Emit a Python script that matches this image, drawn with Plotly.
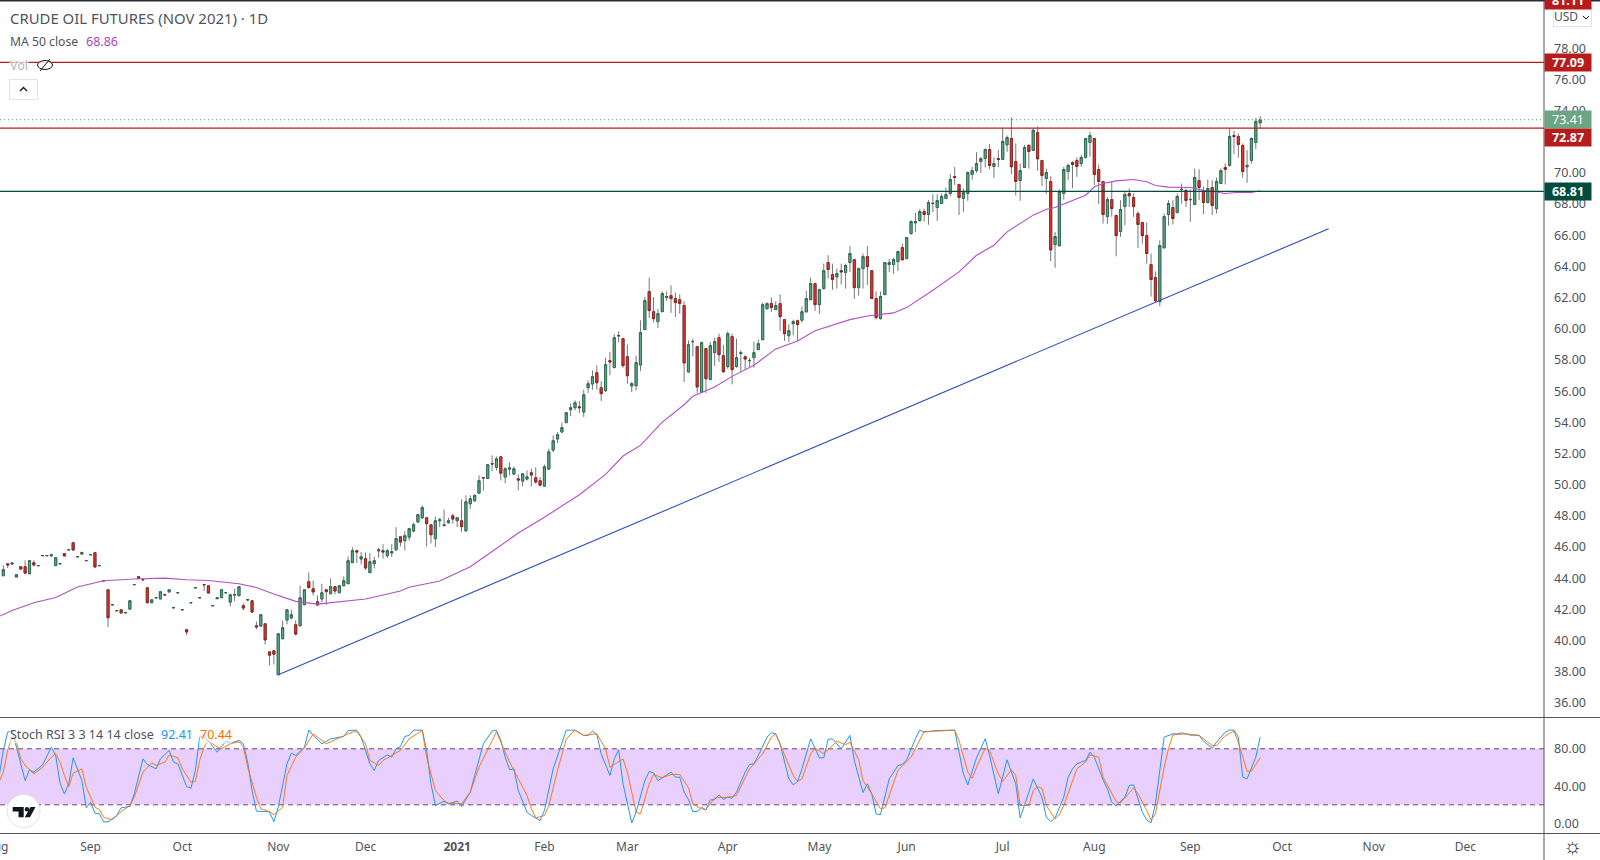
import plotly.graph_objects as go

# daily candles, oldest first, one entry per bar
opens = [
    44.16,44.93,44.91,44.08,44.74,44.74,44.29,45.00,44.80,45.44, 45.44,45.43,44.81,44.92,45.58,45.82,46.28,45.37,45.55,45.12,
    45.50,45.64,44.80,43.83,43.26,42.29,41.91,41.98,41.78,42.02, 43.58,44.10,43.92,43.39,42.43,42.74,42.67,42.95,43.12,42.10,
    43.06,41.97,40.70,42.42,43.38,42.74,43.60,43.52,42.23,42.69, 42.75,43.06,42.47,42.93,42.88,42.24,42.61,42.56,40.95,40.93,
    41.08,39.28,39.35,37.81,40.12,41.32,41.45,41.02,40.95,42.30, 43.78,43.33,42.49,42.67,43.26,43.01,43.46,43.07,43.52,43.65,
    45.00,45.77,45.23,45.26,44.36,44.93,45.75,45.77,45.45,45.62, 45.83,46.66,46.41,46.64,47.03,47.61,47.88,47.88,47.43,46.54,
    47.69,47.37,47.56,48.01,47.69,47.69,47.05,48.78,48.97,49.46, 50.46,50.40,51.35,51.11,51.79,50.49,51.00,50.68,50.38,50.23,
    50.36,50.77,50.45,50.26,49.91,51.00,52.22,52.93,53.38,53.98, 54.81,54.94,55.00,54.66,56.22,56.46,57.19,56.22,56.03,57.96,
    57.51,59.57,59.37,58.21,56.33,56.35,57.68,59.95,62.39,61.10, 60.46,61.10,62.00,62.13,61.94,61.87,61.49,57.23,59.17,58.86,
    55.94,58.73,56.74,58.47,59.43,58.28,57.57,59.50,57.57,58.41, 58.21,57.95,58.15,58.66,59.30,61.29,61.62,61.23,61.62,60.59,
    59.56,60.33,60.52,60.55,61.08,61.87,62.90,61.55,62.58,64.25, 63.48,63.33,63.73,63.61,64.25,64.44,62.64,63.86,64.63,63.73,
    61.94,60.65,62.19,64.12,64.12,64.31,65.21,64.50,66.11,66.79, 66.94,67.52,67.33,68.03,67.78,68.04,68.36,68.68,69.77,69.26,
    68.36,68.68,69.90,70.15,70.73,70.92,71.50,70.41,70.92,70.86, 71.80,72.21,70.73,69.51,70.35,71.76,71.44,72.59,70.80,69.64,
    69.45,65.40,65.32,68.68,70.09,70.67,70.80,70.60,70.99,71.95, 72.21,70.22,69.45,67.20,68.29,67.27,66.24,67.84,68.68,68.42,
    67.39,66.82,65.98,64.12,63.29,61.74,65.19,67.33,67.78,67.46, 68.95,68.87,68.28,67.97,69.51,68.87,68.10,69.06,67.71,69.32,
    70.35,70.48,72.40,72.34,71.76,70.39,70.80,71.95,73.21,
]
highs = [
    44.83,44.93,45.04,44.23,44.74,45.15,45.13,45.15,44.82,45.46, 45.46,45.58,45.32,44.94,45.58,45.84,46.28,45.39,45.66,45.14,
    45.52,45.64,44.82,43.85,43.26,42.31,41.93,41.98,41.85,42.56, 43.60,44.10,43.92,43.39,42.62,42.76,43.14,42.95,43.26,42.12,
    43.08,41.99,40.70,42.44,43.40,42.76,43.60,43.52,42.25,42.75, 43.26,43.08,43.01,43.33,43.46,42.39,42.63,42.56,41.23,41.66,
    41.08,39.28,39.35,40.44,41.28,41.98,42.00,41.30,43.54,43.26, 44.38,43.86,42.90,43.65,43.33,43.99,43.46,43.52,44.12,45.40,
    45.98,45.83,45.68,45.66,45.62,45.38,45.96,46.18,45.90,46.18, 47.27,46.67,47.01,47.18,47.56,48.14,48.68,47.88,47.43,47.95,
    47.88,48.42,47.88,48.14,47.93,49.06,49.32,49.32,49.38,50.60, 50.46,51.28,51.88,51.81,51.79,51.13,51.43,51.17,50.66,50.70,
    50.92,51.02,51.11,50.49,51.30,52.31,53.16,53.38,53.98,54.66, 55.22,55.41,55.37,56.09,56.69,57.34,57.66,56.65,58.15,58.51,
    59.65,59.84,59.37,59.00,56.59,58.28,60.55,62.04,63.29,62.04, 61.29,62.41,62.41,62.79,62.32,62.21,61.77,59.26,59.37,58.86,
    59.18,58.73,59.15,59.43,59.69,58.98,59.84,59.69,59.37,58.62, 58.30,58.15,59.18,59.30,61.68,61.70,62.02,61.77,62.21,60.59,
    60.29,60.59,60.59,61.44,62.43,63.29,62.90,62.58,64.18,64.72, 64.18,63.86,64.18,64.18,65.30,64.44,63.93,64.83,65.30,63.73,
    62.41,62.39,64.25,64.48,64.57,65.04,65.47,65.85,66.97,67.44, 67.69,67.71,68.25,68.64,68.64,68.68,69.06,69.92,70.37,69.26,
    69.00,70.09,70.39,71.33,71.03,71.57,71.85,70.99,71.46,72.87, 72.40,73.56,71.89,70.60,71.78,71.85,72.85,72.98,70.80,70.28,
    69.79,66.22,68.94,70.39,70.60,70.75,70.99,71.14,72.21,72.64, 72.21,70.54,69.45,68.46,69.45,67.33,68.25,68.79,69.00,68.68,
    67.54,66.82,66.82,64.83,63.69,65.68,67.39,68.25,68.25,68.68, 69.32,69.00,68.94,70.28,70.24,69.11,69.58,69.53,69.71,70.28,
    70.60,72.85,72.70,72.53,71.89,71.46,72.27,73.51,73.64,
]
lows = [
    44.16,44.66,44.85,44.08,44.59,44.33,44.29,44.76,44.80,45.44, 45.44,45.43,44.81,44.92,45.43,45.82,45.81,45.37,45.55,45.12,
    45.50,44.72,44.80,43.83,40.87,42.29,41.91,41.77,41.78,42.02, 43.58,43.99,43.90,42.43,42.43,42.74,42.67,42.93,43.12,42.10,
    43.06,41.97,40.35,42.42,43.38,42.74,43.18,43.05,42.23,42.69, 42.75,43.06,42.19,42.52,42.88,41.94,42.52,41.77,40.72,40.87,
    39.76,38.41,38.47,37.81,40.12,41.04,41.36,40.33,40.95,42.30, 43.33,42.90,42.22,42.47,42.30,42.97,42.97,43.07,43.52,43.65,
    45.00,44.98,44.89,44.53,44.36,44.63,45.32,45.26,45.30,45.36, 45.77,46.04,45.79,46.43,46.94,47.56,47.80,46.04,46.24,46.00,
    47.28,47.37,47.50,47.50,47.28,46.96,46.98,48.46,48.89,49.42, 49.63,50.36,50.87,50.92,50.27,50.10,50.60,50.64,49.63,49.89,
    50.27,49.89,50.06,49.89,49.91,51.00,52.09,52.67,53.31,53.95, 54.40,54.77,54.60,54.34,55.88,56.09,56.09,55.37,55.94,57.02,
    57.51,59.13,57.51,56.48,55.94,56.05,57.29,59.95,60.70,60.40, 60.05,61.10,61.79,61.02,60.76,60.97,56.59,57.17,58.23,55.88,
    55.88,55.88,56.74,57.61,57.87,57.17,57.44,56.44,57.51,57.23, 57.38,57.57,57.51,58.66,59.30,61.23,61.08,61.23,59.86,59.22,
    59.13,59.58,59.22,60.40,61.08,61.83,61.15,60.97,62.51,63.22, 62.51,62.58,62.84,62.58,63.63,61.92,62.13,62.58,62.81,61.94,
    60.59,60.59,62.19,63.63,63.54,63.71,64.42,64.50,66.02,66.22, 66.88,66.88,66.67,67.48,66.92,68.04,68.36,68.51,69.23,67.29,
    67.50,68.21,69.56,70.00,70.00,70.35,70.24,69.68,70.37,70.86, 71.35,69.92,68.55,68.21,70.35,70.28,71.44,70.13,69.15,68.64,
    64.33,63.91,65.32,68.29,69.53,69.02,69.75,70.39,70.92,71.03, 69.21,68.00,66.75,66.73,67.18,64.65,65.90,66.65,67.82,67.18,
    65.17,65.47,64.18,62.07,61.72,61.44,65.19,66.62,66.69,67.39, 68.04,67.82,66.86,67.93,68.25,67.35,68.04,67.29,67.39,69.32,
    69.26,70.39,71.20,70.97,69.68,69.36,70.60,71.52,72.87,
]
closes = [
    44.55,44.85,44.98,44.23,44.59,44.33,45.13,44.85,44.82,45.46, 45.46,45.51,45.32,44.94,45.43,45.84,45.81,45.39,45.66,45.14,
    45.52,44.72,44.82,43.85,41.47,42.31,41.93,41.77,41.80,42.56, 43.60,43.99,43.90,42.43,42.62,42.76,43.14,42.93,43.26,42.12,
    43.08,41.99,40.55,42.44,43.40,42.76,43.58,43.05,42.25,42.75, 43.26,43.08,42.94,42.95,43.46,42.09,42.63,41.83,40.87,41.66,
    40.05,39.07,39.13,40.44,40.83,41.98,41.66,40.42,42.75,43.26, 43.41,43.12,42.28,43.07,43.14,43.46,43.18,43.52,43.84,45.13,
    45.77,45.68,45.38,44.66,45.06,45.13,45.83,45.68,45.77,45.70, 46.54,46.32,46.73,47.18,47.43,48.08,48.53,47.50,46.79,47.69,
    47.75,47.43,47.69,47.80,47.88,47.31,48.91,49.10,49.32,50.26, 50.44,51.28,51.33,51.66,50.74,51.02,51.08,51.02,50.30,50.70,
    50.51,50.62,50.17,49.97,51.15,52.11,52.82,53.21,53.66,54.62, 54.94,55.26,54.94,55.77,56.48,56.93,56.54,55.84,57.70,57.87,
    59.43,59.55,57.64,56.99,56.48,57.83,59.75,61.81,61.17,60.65, 60.97,62.26,62.07,61.94,61.68,61.62,57.81,58.98,59.19,56.27,
    59.11,56.80,58.92,59.18,58.34,57.25,59.69,57.38,58.15,58.47, 58.06,57.97,58.47,59.05,61.55,61.62,61.36,61.49,60.78,59.69,
    59.88,60.46,60.27,61.10,61.94,62.90,61.55,62.51,63.73,63.80, 63.16,63.54,63.65,64.06,64.83,62.64,63.86,64.63,63.99,61.94,
    60.72,62.07,64.25,64.25,64.44,64.95,64.42,65.85,66.88,66.88, 67.52,67.33,68.10,68.05,68.23,68.49,68.61,69.58,69.71,68.42,
    68.74,70.03,70.15,70.60,70.92,71.50,70.48,70.60,70.86,72.02, 72.27,70.39,69.45,70.15,71.63,71.37,72.74,70.90,69.83,70.03,
    65.06,65.92,68.81,70.22,70.48,70.54,70.41,70.99,72.21,72.40, 69.90,69.45,67.33,68.29,67.71,65.98,67.65,68.61,68.53,67.84,
    66.69,65.98,64.83,63.16,61.79,65.34,67.20,68.04,67.07,68.49, 68.93,68.23,68.30,69.71,69.06,68.10,69.00,67.91,69.45,70.15,
    70.22,72.34,72.34,71.82,70.09,70.48,72.21,73.30,73.41,
]
bars = list(range(len(closes)))

# MA 50 read at the bars where the curve bends
ma_bars = [-1,2,7,12,17,23,30,37,42,47,54,58,62,67,72,78,83,91,93,100,107,112,118,124,132,138,142,146,151,156,158,163,167,172,
           177,182,186,194,198,204,207,213,219,223,227,230,233,236,239,241,248,250,252,255,259,262,264,267,272,275,280,283,286,288]
ma_values = [41.55,41.94,42.43,42.77,43.44,43.84,43.95,44.01,43.91,43.86,43.65,43.41,42.99,42.52,42.34,42.52,42.67,43.18,43.43,
             43.82,44.74,45.72,46.90,47.92,49.36,50.66,51.84,52.52,54.02,55.13,55.67,56.27,56.95,57.66,58.71,59.22,59.87,60.59,
             60.82,61.02,61.36,62.47,63.65,64.72,65.36,66.22,66.75,67.29,67.67,67.78,68.57,69.11,69.32,69.49,69.58,69.43,69.19,
             69.09,69.06,68.89,68.68,68.76,68.74,68.86]

trend_bars = [63, 303.7]
trend_prices = [37.81, 66.42]

k_bars = [-1,0,1,2,3,4,5,6,7,9,11,12,13,14,15,16,17,18,19,20,21,22,23,24,26,27,29,30,32,33,35,36,38,39,40,41,42,43,44,45,46,49,51,52,54,55,
          56,57,58,61,62,63,65,66,67,69,70,71,73,75,78,79,81,82,84,85,86,88,89,90,91,92,93,94,96,97,98,99,101,102,104,105,107,108,110,112,113,
          114,115,116,117,118,120,121,123,124,126,129,131,133,134,135,136,137,139,140,141,142,144,145,147,148,149,150,153,154,155,156,157,158,
          159,160,161,162,163,164,165,166,167,168,170,171,172,173,175,176,177,178,180,181,182,183,185,187,188,189,190,192,194,195,197,198,199,
          200,201,203,205,206,207,209,210,211,214,218,220,221,223,225,226,228,230,232,233,235,236,238,239,240,241,243,244,245,246,248,249,250,
          252,253,254,255,257,258,259,260,261,262,263,264,266,268,269,270,272,274,275,277,278,280,281,282,283,284,285,287,288]
k_values = [49.6,78.2,97.8,99.6,81.8,63.9,46.0,57.5,55.0,62.8,81.8,72.8,43.2,31.8,42.5,70.3,58.5,46.0,16.8,22.8,11.0,10.3,1.8,1.8,8.6,16.8,18.2,31.8,
            69.2,63.2,58.5,69.2,78.2,65.7,63.9,51.4,39.6,37.8,56.8,92.5,94.3,76.4,88.2,86.0,88.9,85.3,65.7,35.3,13.2,12.5,1.8,17.5,63.9,75.3,72.8,81.8,
            100,94.3,85.3,90.7,93.2,99.6,100,92.5,63.9,56.8,67.5,73.5,71.0,80.0,82.5,93.2,94.3,100,100,78.2,42.5,19.3,23.9,21.0,23.9,18.2,33.5,51.4,85.3,
            98.9,100,88.9,71.0,57.5,58.5,35.3,12.1,8.6,3.2,13.9,58.5,100,100,94.3,94.3,98.9,95.3,74.6,51.4,69.2,78.9,42.5,0.7,12.1,46.0,55.7,54.3,46.0,
            55.0,49.6,49.6,33.5,25.7,12.8,12.8,17.5,14.6,25.3,25.7,30.7,25.7,28.2,27.1,33.5,55.0,63.2,63.9,72.8,92.5,97.1,96.0,85.3,47.8,41.4,45.0,58.5,
            90.7,70.3,70.3,90.0,90.7,80.0,94.3,67.5,33.2,42.5,31.8,10.3,9.3,47.8,62.1,63.2,68.2,90.7,100,97.8,99.6,100,53.2,41.4,70.3,90.7,72.8,31.8,68.2,
            42.5,6.0,33.5,47.8,28.2,6.8,2.1,6.0,28.2,49.6,58.5,63.9,67.5,76.4,71.0,46.8,37.1,22.8,18.9,28.2,40.7,41.4,26.4,12.1,3.9,0.7,21.0,92.5,96.0,96.0,
            97.1,94.6,94.6,88.2,80.7,87.1,97.8,100,100,92.5,49.6,47.8,71.0,92.41]
d_bars = [-1,0,1,2,3,4,5,7,9,11,12,13,14,15,16,18,19,21,22,23,25,27,29,30,32,34,35,37,38,40,41,43,44,45,46,47,49,50,52,54,55,56,58,59,61,62,64,65,67,
          69,71,74,77,80,81,83,84,86,87,89,91,93,96,97,99,101,102,105,107,109,112,113,114,116,118,120,121,122,124,125,127,129,131,133,136,138,139,142,
          143,145,146,148,149,151,153,155,157,158,160,161,163,166,168,171,174,176,177,178,181,182,183,185,186,188,191,193,194,196,197,199,201,202,205,
          208,211,214,218,219,221,222,223,225,226,228,229,231,232,233,235,236,237,238,239,241,242,243,245,246,248,249,251,252,255,256,259,260,262,263,
          264,266,267,268,271,274,275,277,278,280,282,283,285,286,288]
d_values = [44.2,55.0,78.2,92.5,87.1,69.2,62.1,53.2,60.3,71.0,74.6,65.7,51.4,39.6,53.9,58.5,38.9,17.5,15.0,6.8,3.9,12.8,19.3,28.2,55.0,65.0,62.1,65.7,
            73.5,70.3,58.5,44.2,45.0,67.5,81.8,88.9,81.8,80.0,85.3,87.5,81.8,60.3,28.2,15.7,12.8,9.3,17.5,51.4,71.0,81.0,96.0,85.3,91.8,97.8,98.9,85.3,67.5,
            62.1,67.5,72.8,78.2,90.7,99.6,71.0,35.3,24.6,21.8,21.0,33.5,60.3,88.9,98.2,87.1,65.7,47.8,30.0,15.7,6.0,8.6,19.3,56.8,90.7,100,94.3,96.0,80.0,60.3,
            69.2,55.0,12.1,10.3,42.5,52.5,48.9,52.5,52.5,38.2,21.0,15.7,14.6,27.5,28.2,30.0,58.5,74.6,92.5,96.0,85.3,51.4,45.0,47.8,74.6,80.7,74.6,88.2,84.3,
            87.1,68.2,46.0,31.8,15.7,16.8,56.8,71.0,98.5,98.9,100,88.9,55.0,48.5,60.3,80.7,78.2,53.2,45.0,57.5,51.4,19.3,19.3,35.3,39.6,37.8,19.3,5.0,9.6,19.3,
            46.0,58.5,65.7,73.5,71.0,49.6,23.5,22.1,38.2,31.8,13.9,3.9,10.3,60.3,80.0,95.0,96.0,94.2,90.7,83.5,83.5,94.2,98.9,87.1,55.7,56.0,70.44]

price_ticks = [78,76,74,70,68,66,64,62,60,58,56,54,52,50,48,46,44,42,40,38,36]
stoch_ticks = [80,40,0]
month_bars = [20,41,63,83,104,124,143,166,187,207,229,250,272,293,314,335]
month_labels = ["Sep","Oct","Nov","Dec","<b>2021</b>","Feb","Mar","Apr","May","Jun","Jul","Aug","Sep","Oct","Nov","Dec"]

level_prices = [77.09, 72.87, 68.81]
level_colors = ["#b71c1c", "#b71c1c", "#004d40"]
last_price = 73.41

W, H = 1600, 860
TEXT = "#50535e"
FONT = "Noto Sans"


def px(x):
    return x / W


def py(y):
    return 1 - y / H


def text(s, x, y, size=12.5, color=TEXT, anchor="left", **kw):
    return dict(text=s, xref="paper", yref="paper", x=px(x), y=py(y), xanchor=anchor, yanchor="middle",
                showarrow=False, font=dict(family=FONT, size=size, color=color), borderpad=0, **kw)


def price_box(label, color, y, yref="y"):
    return dict(text=label, xref="paper", yref=yref, x=px(1544), y=y, xanchor="left", yanchor="middle", showarrow=False,
                width=46, height=17, borderpad=0, align="center", bgcolor=color,
                font=dict(family=FONT, size=12.5, color="white"))


fig = go.Figure()

# wicks first, then bodies over them so the outline can be darker than the wick
fig.add_trace(go.Candlestick(x=bars, open=opens, high=highs, low=lows, close=closes, xaxis="x", yaxis="y",
                             increasing=dict(line=dict(color="#787878", width=1), fillcolor="#787878"),
                             decreasing=dict(line=dict(color="#787878", width=1), fillcolor="#787878")))
fig.add_trace(go.Candlestick(x=bars, open=opens, close=closes, xaxis="x", yaxis="y",
                             high=[max(o, c) for o, c in zip(opens, closes)],
                             low=[min(o, c) for o, c in zip(opens, closes)],
                             increasing=dict(line=dict(color="#26664a", width=0.8), fillcolor="#5aa886"),
                             decreasing=dict(line=dict(color="#86201d", width=0.8), fillcolor="#e0352e")))
fig.add_trace(go.Scatter(x=ma_bars, y=ma_values, mode="lines", line=dict(color="#b34fc9", width=1.1), xaxis="x", yaxis="y"))
fig.add_trace(go.Scatter(x=trend_bars, y=trend_prices, mode="lines", line=dict(color="#2e50b8", width=1.1), xaxis="x", yaxis="y"))
fig.add_trace(go.Scatter(x=k_bars, y=k_values, mode="lines", line=dict(color="#2196f3", width=1), xaxis="x", yaxis="y2"))
fig.add_trace(go.Scatter(x=d_bars, y=d_values, mode="lines", line=dict(color="#ff6d00", width=0.9), xaxis="x", yaxis="y2"))

shapes = []
# stochastic band and its dashed limits
shapes.append(dict(type="rect", xref="x domain", yref="y2", x0=0, x1=1, y0=20, y1=80, fillcolor="#e9cffd", line_width=0, layer="below"))
for lim in [80, 20]:
    shapes.append(dict(type="line", xref="x domain", yref="y2", x0=0, x1=1, y0=lim, y1=lim, layer="below",
                       line=dict(color="#5f4d6b", width=1, dash="5px,4px")))
# horizontal levels
for p, c in zip(level_prices, level_colors):
    shapes.append(dict(type="line", xref="x domain", yref="y", x0=0, x1=1, y0=p, y1=p, line=dict(color=c, width=1.2)))
shapes.append(dict(type="line", xref="x domain", yref="y", x0=0, x1=1, y0=last_price, y1=last_price,
                   line=dict(color="#4f9a78", width=1, dash="1px,3px")))
# pane borders and the dark strip along the top
for y in [717.5, 833.5]:
    shapes.append(dict(type="line", xref="paper", yref="paper", x0=0, x1=1, y0=py(y), y1=py(y), line=dict(color="#50535e", width=1)))
shapes.append(dict(type="line", xref="paper", yref="paper", x0=px(1544), x1=px(1544), y0=0, y1=1, line=dict(color="#50535e", width=1)))
shapes.append(dict(type="line", xref="paper", yref="paper", x0=0, x1=1, y0=py(0.5), y1=py(0.5), line=dict(color="#2a2e39", width=2)))
# USD selector and the collapse button
shapes.append(dict(type="path", xref="paper", yref="paper", line=dict(color="#131722", width=1),
                   path=f"M{px(1583)} {py(16)} L{px(1586)} {py(19)} L{px(1589)} {py(16)}"))
shapes.append(dict(type="rect", xref="paper", yref="paper", x0=px(9.5), x1=px(37.5), y0=py(79.5), y1=py(99.5),
                   fillcolor="white", line=dict(color="#e0e3eb", width=1)))
shapes.append(dict(type="path", xref="paper", yref="paper", line=dict(color="#131722", width=1.4),
                   path=f"M{px(20)} {py(91)} L{px(23.5)} {py(87.5)} L{px(27)} {py(91)}"))
# hidden-volume eye
shapes.append(dict(type="circle", xref="paper", yref="paper", x0=px(37.5), x1=px(52.5), y0=py(60.5), y1=py(69.5),
                   fillcolor="rgba(255,255,255,0.8)", line=dict(color="#131722", width=1)))
shapes.append(dict(type="line", xref="paper", yref="paper", x0=px(40), x1=px(50), y0=py(71), y1=py(59), line=dict(color="#131722", width=1)))
# logo badge
shapes.append(dict(type="circle", xref="paper", yref="paper", x0=px(7), x1=px(40), y0=py(794.5), y1=py(827.5),
                   fillcolor="white", line=dict(color="#e0e3eb", width=1)))
shapes.append(dict(type="path", xref="paper", yref="paper", fillcolor="#131722", line_width=0,
                   path=f"M{px(12.7)} {py(807)} H{px(23.7)} V{py(817.3)} H{px(18.5)} V{py(811.5)} H{px(12.7)} Z"))
shapes.append(dict(type="circle", xref="paper", yref="paper", fillcolor="#131722", line_width=0,
                   x0=px(24.8), x1=px(29.2), y0=py(807), y1=py(811.4)))
shapes.append(dict(type="path", xref="paper", yref="paper", fillcolor="#131722", line_width=0,
                   path=f"M{px(30.5)} {py(807)} H{px(35.5)} L{px(30)} {py(817.3)} H{px(24.8)} Z"))

annotations = [
    text("CRUDE OIL FUTURES (NOV 2021) · 1D", 8.5, 18, size=14.9),
    text("MA 50 close", 8.5, 41.5, size=12.2),
    text("68.86", 85, 41.5, color="#ab47bc"),
    text("Vol", 8.5, 65.5, color="#b2b5be", bgcolor="rgba(255,255,255,0.7)"),
    text("Stoch RSI 3 3 14 14 close", 8.5, 734.5, bgcolor="rgba(255,255,255,0.55)"),
    text("92.41", 160, 734.5, color="#2196f3", bgcolor="rgba(255,255,255,0.55)"),
    text("70.44", 199, 734.5, color="#ff6d00", bgcolor="rgba(255,255,255,0.55)"),
    text("Aug", -3.5, 846.5, size=12, anchor="center"),
    text("☼", 1572.7, 845, size=21, color="#131722", anchor="center"),
    dict(text="USD", xref="paper", yref="paper", x=px(1553), y=py(17), xanchor="left", yanchor="middle", showarrow=False,
         width=37, height=19, borderpad=0, align="left", bordercolor="#e0e3eb", borderwidth=1,
         font=dict(family=FONT, size=12, color=TEXT)),
    price_box("<b>81.11</b>", "#b71c1c", 1.0, yref="paper"),
    price_box("<b>77.09</b>", level_colors[0], level_prices[0]),
    price_box(f"{last_price:.2f}", "#6ba583", last_price),
    # pushed below its line by the last-price label, as the source does
    price_box("<b>72.87</b>", level_colors[1], py(137.5), yref="paper"),
    price_box("<b>68.81</b>", level_colors[2], level_prices[2]),
]

fig.update_layout(
    width=W, height=H,
    margin=dict(l=0, r=0, t=0, b=0),
    paper_bgcolor="white", plot_bgcolor="white",
    showlegend=False,
    hovermode=False,
    font=dict(family=FONT, size=12, color=TEXT),
    shapes=shapes,
    annotations=annotations,
    xaxis=dict(domain=[0, px(1544)], anchor="y2", range=[-0.76, 353.04], showgrid=False, zeroline=False, showline=False,
               rangeslider_visible=False, tickmode="array", tickvals=month_bars, ticktext=month_labels, ticks="",
               tickfont=dict(family=FONT, size=12, color=TEXT), ticklabelstandoff=4),
    yaxis=dict(domain=[py(717.5), 1], anchor="x", side="right", range=[35.07, 81.09], showgrid=False, zeroline=False, showline=False,
               tickmode="array", tickvals=price_ticks, ticktext=[f"{t:.2f}" for t in price_ticks], ticks="",
               tickfont=dict(family=FONT, size=12.5, color=TEXT), ticklabelstandoff=9),
    yaxis2=dict(domain=[py(833.5), py(717.5)], anchor="x", side="right", range=[-10.7, 113.5], showgrid=False, zeroline=False, showline=False,
                tickmode="array", tickvals=stoch_ticks, ticktext=[f"{t:.2f}" for t in stoch_ticks], ticks="",
                tickfont=dict(family=FONT, size=12.5, color=TEXT), ticklabelstandoff=9),
)

fig.write_html("out.html", config={"displayModeBar": False}, post_script="document.body.style.margin='0';")
